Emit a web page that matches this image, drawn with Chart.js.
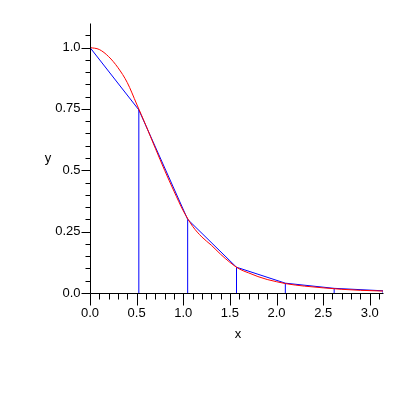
<!DOCTYPE html>
<html>
<head>
<meta charset="utf-8">
<script src="https://cdn.jsdelivr.net/npm/chart.js@4/dist/chart.umd.min.js"></script>
<style>
  html, body { margin: 0; padding: 0; background: #fff; }
  canvas { display: block; }
</style>
</head>
<body>
<canvas id="plot" width="398" height="398"></canvas>
<script>
// interpolation nodes (blue polyline + vertical lines)
const xNodes = [0, 0.5236, 1.0472, 1.5708, 2.0944, 2.618, 3.1416];
const yNodes = [1.0, 0.746, 0.300, 0.105, 0.040, 0.019, 0.009];

// smooth function (red)
const xCurve = [0, 0.1, 0.2, 0.3, 0.4, 0.5, 0.6, 0.7, 0.8, 0.9, 1.0, 1.1, 1.2, 1.3, 1.4, 1.5, 1.6, 1.7, 1.8, 1.9, 2.0, 2.1, 2.3, 2.5, 2.7, 2.9, 3.1416];
const yCurve = [1.0, 0.992, 0.963, 0.918, 0.857, 0.77, 0.682, 0.59, 0.50, 0.415, 0.335, 0.272, 0.228, 0.195, 0.158, 0.125, 0.098, 0.082, 0.067, 0.055, 0.046, 0.038, 0.028, 0.021, 0.015, 0.011, 0.008];

// axes
const xTicks = [0, 0.5, 1.0, 1.5, 2.0, 2.5, 3.0];
const yTicks = [0, 0.25, 0.5, 0.75, 1.0];
const X_MAX = 3.1416;
const Y_MAX = 1.1;

const FONT = '13px "Liberation Sans", Arial, sans-serif';

const pts = (xs, ys) => xs.map((x, i) => ({ x: x, y: ys[i] }));

const datasets = [
    { data: pts(xCurve, yCurve), borderColor: '#ff0000', borderWidth: 1, pointRadius: 0, cubicInterpolationMode: 'monotone', order: 0 },
    { data: pts(xNodes, yNodes), borderColor: '#0000ff', borderWidth: 1, pointRadius: 0, tension: 0, order: 1 }
];
// vertical lines under each node (skip x=0, it sits on the axis)
xNodes.forEach((x, i) => {
    if (i === 0) return;
    datasets.push({ data: [{ x: x, y: 0 }, { x: x, y: yNodes[i] }], borderColor: '#0000ff', borderWidth: 1, pointRadius: 0, order: 2 });
});

const axesPlugin = {
    id: 'mapleAxes',
    afterDatasetsDraw(chart) {
        const c = chart.ctx, xs = chart.scales.x, ys = chart.scales.y;
        const px = v => Math.round(xs.getPixelForValue(v)) + 0.5;
        const py = v => Math.round(ys.getPixelForValue(v)) + 0.5;
        const x0 = px(0), y0 = py(0);
        c.save();
        c.strokeStyle = '#000';
        c.lineWidth = 1;
        c.beginPath();
        // axis lines
        c.moveTo(x0, py(Y_MAX)); c.lineTo(x0, y0);
        c.moveTo(x0, y0); c.lineTo(px(X_MAX), y0);
        // x ticks: minor every 0.1, major at labelled ticks
        for (let k = 0; k <= 31; k++) {
            const v = k / 10;
            const major = k % 5 === 0;
            c.moveTo(px(v), y0); c.lineTo(px(v), y0 + (major ? 12 : 6));
        }
        // y ticks: minor every 0.05
        for (let k = 0; k <= 21; k++) {
            const v = k / 20;
            const major = k % 5 === 0;
            c.moveTo(x0, py(v)); c.lineTo(x0 - (major ? 9 : 5), py(v));
        }
        c.stroke();

        c.fillStyle = '#000';
        c.font = FONT;
        c.textAlign = 'center';
        c.textBaseline = 'middle';
        xTicks.forEach(v => c.fillText(v.toFixed(1), xs.getPixelForValue(v), y0 + 20));
        c.textAlign = 'right';
        yTicks.forEach(v => c.fillText(v === 0.25 || v === 0.75 ? v.toFixed(2) : v.toFixed(1), x0 - 10, ys.getPixelForValue(v)));
        // titles
        c.textAlign = 'center';
        c.fillText('x', 238, 334);
        c.fillText('y', 48, 158);
        c.restore();
    }
};

new Chart(document.getElementById('plot'), {
    type: 'line',
    data: { datasets: datasets },
    options: {
        responsive: false,
        animation: false,
        events: [],
        layout: { padding: { left: 90, right: 15, top: 23, bottom: 105 } },
        plugins: { legend: { display: false }, tooltip: { enabled: false } },
        scales: {
            x: { type: 'linear', min: 0, max: X_MAX, display: false },
            y: { type: 'linear', min: 0, max: Y_MAX, display: false }
        }
    },
    plugins: [axesPlugin]
});
</script>
</body>
</html>
